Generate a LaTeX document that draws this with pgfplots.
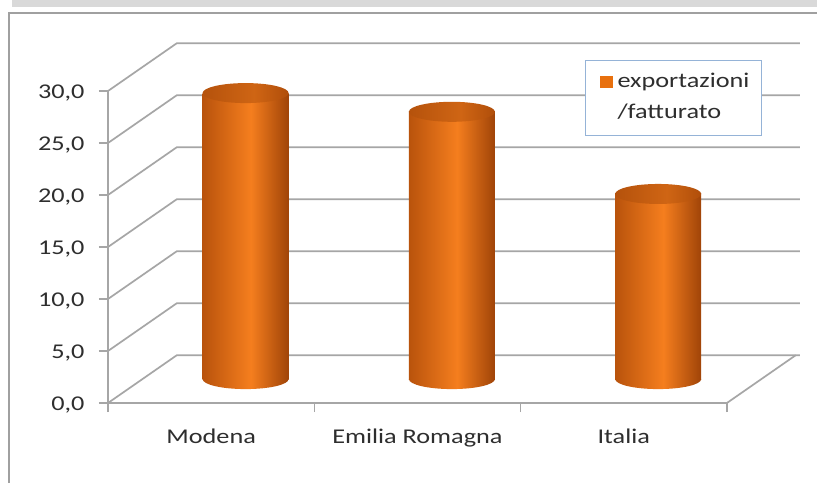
\documentclass[border=0pt]{standalone}
\usepackage{fontspec}
\setmainfont{Carlito}[FakeStretch=1.25]
\usepackage{pgfplots}
\pgfplotsset{compat=1.18}
\usepackage{pgfplotstable}
\definecolor{gridgray}{HTML}{A6A6A6}
\definecolor{framegray}{HTML}{A0A0A0}
\definecolor{bandgray}{HTML}{D9D9D9}
\definecolor{txt}{HTML}{2E2E2E}
\definecolor{cylL}{HTML}{B9530C}
\definecolor{cylM}{HTML}{F57E1E}
\definecolor{cylR}{HTML}{A04408}
\definecolor{topL}{HTML}{B5520C}
\definecolor{topM}{HTML}{CF6514}
\definecolor{topR}{HTML}{B04E0A}
\definecolor{legblue}{HTML}{95B3D7}
\definecolor{legorange}{HTML}{E8700E}

\pgfdeclarehorizontalshading{cylshade}{100bp}{color(0bp)=(cylL); color(25bp)=(cylL); color(53bp)=(cylM); color(75bp)=(cylR); color(100bp)=(cylR)}
\pgfdeclarehorizontalshading{topshade}{100bp}{color(0bp)=(topL); color(25bp)=(topL); color(55bp)=(topM); color(75bp)=(topR); color(100bp)=(topR)}

\pgfdeclareplotmark{cylbottom}{%
  \pgfpathmoveto{\pgfqpoint{-43pt}{0pt}}%
  \pgfpatharc{180}{360}{43pt and 10pt}%
  \pgfpathclose
  \pgfshadepath{cylshade}{0}%
  \pgfusepath{discard}}
\pgfdeclareplotmark{cyltop}{%
  \pgfpathellipse{\pgfpointorigin}{\pgfqpoint{43pt}{0pt}}{\pgfqpoint{0pt}{10pt}}%
  \pgfshadepath{topshade}{0}%
  \pgfusepath{discard}}

\pgfplotstableread{
x v
0 27.5
1 25.7
2 17.8
}\cyldata

\begin{document}
\begin{tikzpicture}
\path[use as bounding box, fill=white] (0,0) rectangle (817pt,483pt);
\fill[bandgray] (12pt,475.5pt) rectangle (817pt,483pt);
\draw[framegray, line width=2.5pt] (8.75pt,0pt) -- (8.75pt,470pt) -- (817pt,470pt);

\begin{axis}[
  at={(108pt,80pt)}, anchor=south west,
  x=206.3pt, y=10.4pt,
  xmin=-0.5, xmax=2.854, ymin=0, ymax=34.7,
  clip=false,
  axis line style={draw=none},
  xtick={-0.5,0.5,1.5,2.5}, xticklabels={},
  extra x ticks={0,1,2},
  extra x tick labels={Modena,Emilia Romagna,Italia},
  extra x tick style={major tick length=0pt, xticklabel style={yshift=-22pt}},
  ytick={0,5,...,30},
  xtick pos=bottom, ytick pos=left,
  tick align=outside,
  major tick length=9pt,
  tick style={draw=gridgray, line width=1.5pt},
  tick label style={text=txt, font=\fontsize{21}{25}\selectfont},
  yticklabel style={xshift=-11pt, yshift=-2pt},
  /pgf/number format/.cd, fixed, fixed zerofill, precision=1, use comma, assume math mode=true,
]
\pgfplotsinvokeforeach{0,5,10,15,20,25,30}{
  \draw[gridgray, line width=1.7pt] (axis cs:-0.5,#1) -- (axis cs:-0.166,#1+4.6) -- (axis cs:2.854,#1+4.6);
}
\draw[gridgray, line width=1.7pt] (axis cs:-0.5,30) -- (axis cs:-0.5,0) -- (axis cs:2.5,0) -- (axis cs:2.834,4.6);
\end{axis}

\begin{axis}[
  at={(142.45pt,103.92pt)}, anchor=south west,
  x=206.3pt, y=10.4pt,
  xmin=-0.5, xmax=2.854, ymin=0, ymax=34.7,
  clip=false, hide axis,
  legend style={at={(axis description cs:0.6396,0.884)}, anchor=north west,
    draw=legblue, line width=1pt, fill=white,
    font=\fontsize{21}{25}\selectfont, text=txt,
    inner xsep=10pt, inner ysep=9.5pt, row sep=6pt,
    nodes={text height=15pt, text depth=6pt, inner sep=2pt}},
  legend cell align=left,
]
\addplot[only marks, mark=cylbottom, forget plot] table[x=x, y expr=0]{\cyldata};
\pgfplotsinvokeforeach{0,1,2}{
  \addplot[ybar, bar width=86pt, bar shift=0pt, draw=none, shade, shading=cylshade,
    forget plot, restrict x to domain=#1:#1] table[x=x, y=v]{\cyldata};
}
\addplot[only marks, mark=cyltop, forget plot] table[x=x, y=v]{\cyldata};
\addlegendimage{legend image code/.code={\fill[legorange, draw=none] (4pt,-5pt) rectangle (17pt,7pt); \path[draw=none, fill=none] (0pt,0pt) -- (20pt,0pt);}}
\addlegendentry{exportazioni}
\addlegendimage{legend image code/.code={\path[draw=none, fill=none] (0pt,0pt) -- (20pt,0pt);}}
\addlegendentry{/fatturato}
\end{axis}
\end{tikzpicture}
\end{document}
